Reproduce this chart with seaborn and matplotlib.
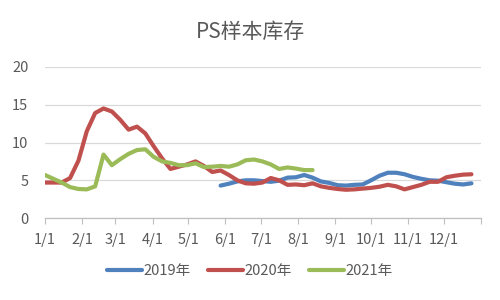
import matplotlib
matplotlib.use("Agg")
import matplotlib.pyplot as plt
import seaborn as sns
import pandas as pd
import numpy as np

# --- data (weekly, week index from Jan 1) ---
weeks_2019_start = 21
vals_2019 = [4.3, 4.55, 4.85, 5.0, 5.0, 4.9, 4.8, 4.95, 5.35, 5.4, 5.7, 5.35, 4.85,
             4.65, 4.35, 4.3, 4.4, 4.45, 5.0, 5.6, 6.0, 6.0, 5.8, 5.45, 5.2, 5.0,
             4.95, 4.75, 4.55, 4.45, 4.6]
vals_2020 = [4.7, 4.7, 4.7, 5.3, 7.6, 11.5, 13.9, 14.5, 14.1, 13.0, 11.7, 12.1, 11.2,
             9.5, 7.9, 6.5, 6.8, 7.1, 7.5, 6.9, 6.1, 6.3, 5.7, 5.0, 4.6, 4.55, 4.7,
             5.3, 5.0, 4.4, 4.45, 4.35, 4.6, 4.2, 4.0, 3.85, 3.75, 3.8, 3.9, 4.0,
             4.15, 4.4, 4.2, 3.8, 4.1, 4.4, 4.8, 4.8, 5.4, 5.6, 5.75, 5.8]
vals_2021 = [5.7, 5.2, 4.7, 4.1, 3.85, 3.8, 4.2, 8.4, 7.0, 7.8, 8.5, 9.0, 9.1, 8.1,
             7.5, 7.3, 7.0, 7.0, 7.25, 6.75, 6.8, 6.9, 6.8, 7.1, 7.65, 7.75, 7.5,
             7.1, 6.5, 6.7, 6.55, 6.35, 6.35]
series_names = ["2019年", "2020年", "2021年"]
month_labels = ["1/1", "2/1", "3/1", "4/1", "5/1", "6/1", "7/1", "8/1", "9/1",
                "10/1", "11/1", "12/1"]
month_start_days = [0, 31, 59, 90, 120, 151, 181, 212, 243, 273, 304, 334]
y_ticks = [0, 5, 10, 15, 20]

rows = []
for i, v in enumerate(vals_2019):
    rows.append({"day": (weeks_2019_start + i) * 7, "value": v, "year": series_names[0]})
for i, v in enumerate(vals_2020):
    rows.append({"day": i * 7, "value": v, "year": series_names[1]})
for i, v in enumerate(vals_2021):
    rows.append({"day": i * 7, "value": v, "year": series_names[2]})
df = pd.DataFrame(rows)

sns.set_theme(style="white")
plt.rcParams["font.family"] = ["Noto Sans CJK SC", "DejaVu Sans"]

fig = plt.figure(figsize=(5, 3), dpi=100)
ax = fig.add_axes([0.09, 0.273, 0.872, 0.504])

palette = {"2019年": "#4F81BD", "2020年": "#C0504D", "2021年": "#9BBB59"}
sns.lineplot(data=df, x="day", y="value", hue="year", palette=palette,
             linewidth=3.0, ax=ax, legend=True, sort=True)

ax.set_xlim(0, 365)
ax.set_ylim(0, 20)
ax.set_yticks(y_ticks)
ax.set_yticklabels([str(t) for t in y_ticks], color="#595959", fontsize=10.5)
ax.set_xticks(month_start_days + [365], minor=False)
ax.set_xticklabels(month_labels + [""], color="#595959", fontsize=10.5)
ax.tick_params(axis="x", length=4, width=0.8, color="#BFBFBF", direction="out", pad=7, bottom=True)
ax.tick_params(axis="y", length=0, pad=12)
ax.grid(axis="y", color="#D9D9D9", linewidth=0.9)
ax.grid(axis="x", visible=False)
for s in ["top", "right", "left"]:
    ax.spines[s].set_visible(False)
ax.spines["bottom"].set_color("#BFBFBF")
ax.spines["bottom"].set_linewidth(0.9)
ax.set_xlabel("")
ax.set_ylabel("")

fig.text(0.5, 0.895, "PS样本库存", ha="center", va="center", fontsize=15, color="#595959")

handles, labels = ax.get_legend_handles_labels()
ax.legend(handles, labels, loc="center", bbox_to_anchor=(0.5, 0.097), bbox_transform=fig.transFigure,
          ncol=3, frameon=False, fontsize=10.5, handlelength=2.4, handletextpad=0.1,
          columnspacing=1.2, labelcolor="#595959")

fig.savefig("out.png", dpi=100)
